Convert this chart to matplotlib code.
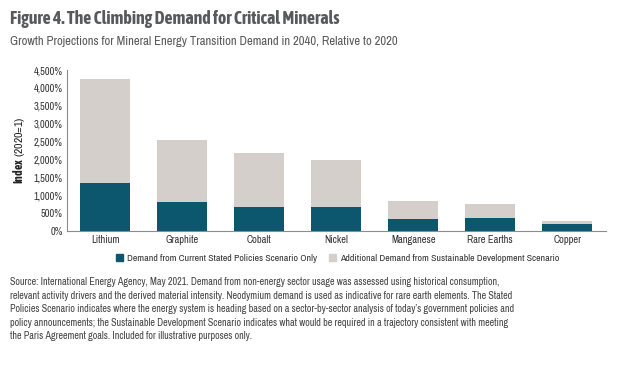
import matplotlib
matplotlib.use('Agg')
from matplotlib import pyplot as plt
from matplotlib import font_manager
from matplotlib.patches import Patch
import numpy as np

# data
minerals = ['Lithium', 'Graphite', 'Cobalt', 'Nickel', 'Manganese', 'Rare Earths', 'Copper']
total_sds = [4250, 2530, 2190, 1990, 840, 760, 280]
stated_policies = [1330, 810, 670, 670, 340, 360, 190]
additional_sds = [t - s for t, s in zip(total_sds, stated_policies)]
yticks = [0, 500, 1000, 1500, 2000, 2500, 3000, 3500, 4000, 4500]

fname = 'Archivo Narrow'


# pick a condensed family that really ships a bold face
def has_bold(name):
    for f in font_manager.fontManager.ttflist:
        w = f.weight if isinstance(f.weight, int) else font_manager.weight_dict.get(f.weight, 400)
        if f.name == name and w >= 700 and f.style == 'normal':
            return True
    return False


bold_name = next((n for n in ['Asap Condensed', 'Barlow Semi Condensed', 'Encode Sans Condensed', 'Archivo Narrow']
                  if has_bold(n)), 'DejaVu Sans')

plt.rcParams['font.family'] = [fname, 'DejaVu Sans']
plt.rcParams['mathtext.fontset'] = 'custom'
plt.rcParams['mathtext.bf'] = bold_name + ':bold'
plt.rcParams['mathtext.rm'] = fname

dark = '#0c566e'
light = '#d4cfca'
grey_txt = '#58595b'

fig = plt.figure(figsize=(6.2, 3.67), dpi=100)
ax = fig.add_axes([0.108, 0.371, 0.869, 0.438])

x = np.arange(len(minerals))
ax.bar(x, stated_policies, width=0.65, color=dark, zorder=2)
ax.bar(x, additional_sds, width=0.65, bottom=stated_policies, color=light, zorder=2)

ax.set_xlim(-0.5, len(minerals) - 0.5)
ax.set_ylim(0, 4500)
ax.set_yticks(yticks)
ax.set_yticklabels([f'{v:,}%' for v in yticks])
ax.set_xticks(x)
ax.set_xticklabels(minerals)

for s in ['top', 'right']:
    ax.spines[s].set_visible(False)
for s in ['left', 'bottom']:
    ax.spines[s].set_color('#8c8c8c')
    ax.spines[s].set_linewidth(0.8)
ax.tick_params(length=0, labelsize=7.5, labelcolor='#333333', pad=3)

ax.set_ylabel(r'$\bf{Index}$ (2020=1)', fontsize=8.5, color='#222222', labelpad=5)

# legend
handles = [Patch(color=dark, label='Demand from Current Stated Policies Scenario Only'),
           Patch(color=light, label='Additional Demand from Sustainable Development Scenario')]
fig.legend(handles=handles, loc='center', bbox_to_anchor=(0.545, 0.297), ncol=2, frameon=False,
           fontsize=7.1, handlelength=0.7, handleheight=0.7, handletextpad=0.4, columnspacing=1.2,
           labelcolor='#333333')

# titles
fig.text(0.016, 0.948, 'Figure 4. The Climbing Demand for Critical Minerals', fontsize=12.8,
         fontweight='bold', family=[bold_name, 'DejaVu Sans'], color=grey_txt, va='center')
fig.text(0.016, 0.886, 'Growth Projections for Mineral Energy Transition Demand in 2040, Relative to 2020',
         fontsize=9.15, color=grey_txt, va='center')

source = ("Source: International Energy Agency, May 2021. Demand from non-energy sector usage was assessed using historical consumption,\n"
          "relevant activity drivers and the derived material intensity. Neodymium demand is used as indicative for rare earth elements. The Stated\n"
          "Policies Scenario indicates where the energy system is heading based on a sector-by-sector analysis of today\u2019s government policies and\n"
          "policy announcements; the Sustainable Development Scenario indicates what would be required in a trajectory consistent with meeting\n"
          "the Paris Agreement goals. Included for illustrative purposes only.")
fig.text(0.016, 0.245, source, fontsize=7.3, color='#444444', va='top', linespacing=1.45)

plt.savefig('out.png', dpi=100)
